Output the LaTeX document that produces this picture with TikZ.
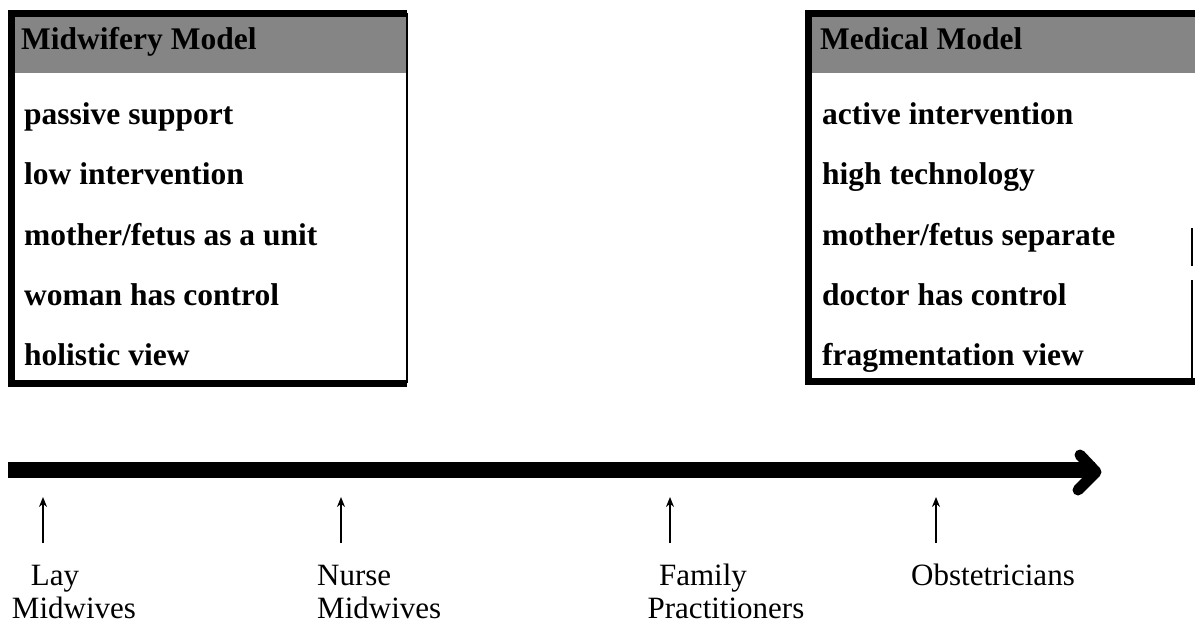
\documentclass[tikz,border=0pt]{standalone}
\usepackage{fontspec}
\setmainfont{Liberation Serif}
\usetikzlibrary{arrows.meta}

\tikzset{
  rowtext/.style={anchor=base west, inner sep=0pt, font=\fontsize{31.5}{36}\selectfont\bfseries},
  headtext/.style={anchor=base west, inner sep=0pt, font=\fontsize{31.5}{36}\selectfont\bfseries},
  grouptext/.style={align=center, inner sep=0pt, anchor=base, font=\fontsize{31}{33}\selectfont},
  heavyedge/.style={line width=7pt, line join=miter},
  thinedge/.style={line width=1.6pt},
  headfill/.style={fill=black!48},
  pointer/.style={line width=1.8pt, -{Stealth[length=10pt,width=8pt]}},
  axisbar/.style={line width=16pt},
  axishead/.style={line width=11pt, line cap=round, line join=round},
}

\begin{document}
\begin{tikzpicture}[x=1pt, y=-1pt]
  \useasboundingbox (0,0) rectangle (1195,623);

  % ---- left panel: midwifery model ----
  \fill[headfill] (15,17) rectangle (406,73);
  \draw[heavyedge] (407,13.5) -- (11.5,13.5) -- (11.5,383) -- (407,383);
  \draw[thinedge] (407,13.5) -- (407,383);
  \node[headtext] (midhead) at (21,50) {Midwifery Model};
  \node[rowtext] (m1) at (24,125) {passive support};
  \node[rowtext] (m2) at (24,185) {low intervention};
  \node[rowtext] (m3) at (24,245) {mother/fetus as a unit};
  \node[rowtext] (m4) at (24,305) {woman has control};
  \node[rowtext] (m5) at (24,365) {holistic view};

  % ---- right panel: medical model ----
  \fill[headfill] (812,17) rectangle (1195,73);
  \draw[heavyedge] (1195,13.5) -- (808.5,13.5) -- (808.5,381) -- (1195,381);
  \draw[thinedge] (1192,228) -- (1192,266);
  \draw[thinedge] (1192,280) -- (1192,381);
  \node[headtext] (medhead) at (820,50) {Medical Model};
  \node[rowtext] (d1) at (822,125) {active intervention};
  \node[rowtext] (d2) at (822,185) {high technology};
  \node[rowtext] (d3) at (822,245) {mother/fetus separate};
  \node[rowtext] (d4) at (822,305) {doctor has control};
  \node[rowtext] (d5) at (822,365) {fragmentation view};

  % ---- continuum axis ----
  \coordinate (axisL) at (8,470);
  \coordinate (axisR) at (1095,470);
  \coordinate (barbT) at (1080,455);
  \coordinate (barbB) at (1078,490);
  \draw[axisbar] (axisL) -- (axisR);
  \draw[axishead] (barbT) -- (1096,472) -- (barbB);

  % ---- practitioner groups (base = last line) ----
  \node[grouptext] (lay)   at (74,618)  {\hspace*{-38pt}Lay\\Midwives};
  \node[grouptext, align=left, anchor=base west] (nurse) at (317,618) {Nurse\\Midwives};
  \node[grouptext] (fam)   at (726,618) {\hspace*{-46pt}Family\\Practitioners};
  \node[grouptext] (obs)   at (993,585) {Obstetricians};

  \foreach \n/\x in {1/43, 2/341, 3/670, 4/936} {
    \coordinate (tail\n) at (\x,543);
    \coordinate (tip\n) at (\x,497);
    \draw[pointer] (tail\n) -- (tip\n);
  }
\end{tikzpicture}
\end{document}
